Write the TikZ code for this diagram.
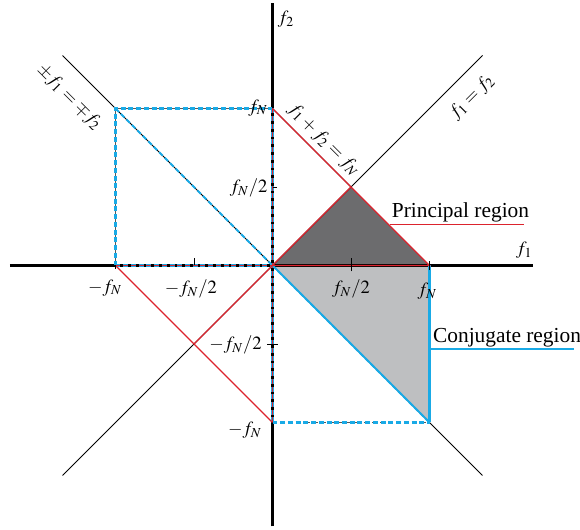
\documentclass[tikz,border=0pt]{standalone}
\usepackage{mathptmx}
\usepackage{fontspec}
\setmainfont{Liberation Serif}
\usetikzlibrary{positioning}
\definecolor{RegionRed}{RGB}{220,35,45}
\definecolor{RegionBlue}{RGB}{25,170,230}
\definecolor{DarkFill}{RGB}{108,108,110}
\definecolor{LightFill}{RGB}{190,191,193}

\begin{document}
\begin{tikzpicture}[font=\fontsize{13.5}{16}\selectfont,
    axis/.style={line width=2.1pt},
    thinline/.style={line width=0.7pt},
    graybox/.style={line width=0.9pt, black!65},
    bluedash/.style={RegionBlue, line width=1.5pt, dash pattern=on 3.6pt off 2pt},
    reddash/.style={RegionRed, line width=1.2pt, dash pattern=on 3.6pt off 2pt},
    redline/.style={RegionRed, line width=0.9pt},
    blueline/.style={RegionBlue, line width=1.3pt},
    tickmark/.style={line width=0.7pt}]
    \useasboundingbox (-6.943,-6.739) rectangle (7.834,6.764);

    % Corner points (f_N = 4)
    \coordinate (O) at (0,0);
    \coordinate (R) at (4,0);
    \coordinate (L) at (-4,0);
    \coordinate (T) at (0,4);
    \coordinate (B) at (0,-4);
    \coordinate (TL) at (-4,4);
    \coordinate (BR) at (4,-4);
    \coordinate (M) at (2,2);

    % Regions
    \fill[LightFill] (O) -- (R) -- (BR) -- cycle;
    \fill[DarkFill] (O) -- (M) -- (R) -- cycle;

    % Axes
    \draw[axis] (-6.69,0) -- (6.64,0);
    \draw[axis] (0,-6.65) -- (0,6.69);

    % Symmetry lines
    \draw[thinline] (-5.35,-5.35) -- (5.35,5.35);
    \draw[thinline] (-5.35,5.35) -- (5.35,-5.35);
    \draw[thinline] (T) -- (M);

    % Squares
    \draw[graybox] (L) -- (TL) -- (T);
    \draw[graybox, dashed] (B) -- (BR);
    \draw[bluedash] (L) -- (TL) -- (T);
    \draw[bluedash] (TL) -- (O);
    \draw[bluedash, xshift=-1.2pt] (T) -- (B);
    \draw[bluedash, yshift=1pt] (L) -- (O);
    \draw[bluedash] (B) -- (BR);
    \draw[reddash, xshift=1.1pt] (T) -- (B);
    \draw[reddash, yshift=-0.3pt] (L) -- (O);

    % Conjugate region edges
    \draw[blueline, line width=1.7pt, xshift=0.3pt] (R) -- (BR);
    \draw[blueline, yshift=-1pt] (O) -- (R);
    \draw[bluedash, xshift=-0.7pt, yshift=-0.7pt] (O) -- (BR);
    \draw[blueline] (O) -- (BR);

    % Principal region edges
    \draw[redline, xshift=-0.6pt] (T) -- (M);
    \draw[redline] (O) -- (M) -- (R) -- cycle;
    \draw[redline] (L) -- (B);
    \draw[redline] (O) -- (-2,-2);

    % Ticks
    \draw[tickmark] (-2,0) -- (-2,0.2);
    \draw[tickmark] (2,-0.15) -- (2,0.2);
    \draw[tickmark] (4,-0.12) -- (4,0.12);
    \draw[tickmark] (-4,0) -- (-4,-0.1);
    \draw[tickmark] (0,2) -- (0.12,2);
    \draw[tickmark] (-0.14,-2) -- (0.14,-2);

    % Axis labels
    \node (f2) at (0.34,6.28) {$f_2$};
    \node (f1) at (6.41,0.39) {$f_1$};
    \node[anchor=east, inner sep=0pt] (yN) at (-0.12,4.02) {$f_N$};
    \node[anchor=east, inner sep=0pt] (yh) at (-0.12,1.97) {$f_N/2$};
    \node[anchor=east, inner sep=0pt] (ymh) at (-0.27,-2.02) {$-f_N/2$};
    \node[anchor=east, inner sep=0pt] (ymN) at (-0.27,-4.2) {$-f_N$};
    \node (xmN) at (-4.27,-0.57) {$-f_N$};
    \node (xmh) at (-2.08,-0.6) {$-f_N/2$};
    \node (xh) at (2.0,-0.6) {$f_N/2$};
    \node (xN) at (3.94,-0.65) {$f_N$};

    % Line labels
    \node[rotate=45] (diag) at (5.08,4.29) {$f_1 = f_2$};
    \node[rotate=-45] (anti) at (-5.18,4.29) {$\pm f_1 = \mp f_2$};
    \node[rotate=-45] (sum) at (1.31,3.2) {$f_1 + f_2 = f_N$};

    % Region labels
    \node[anchor=west, inner sep=1pt, font=\fontsize{15.5}{18}\selectfont] (prin) at (3.0,1.34) {Principal region};
    \draw[redline] (prin.south west) -- ([xshift=-5pt]prin.south east);
    \node[anchor=west, inner sep=1pt, font=\fontsize{15.5}{18}\selectfont] (conj) at (4.05,-1.85) {Conjugate region};
    \draw[blueline] (conj.south west) -- ([xshift=-6pt]conj.south east);
\end{tikzpicture}
\end{document}
